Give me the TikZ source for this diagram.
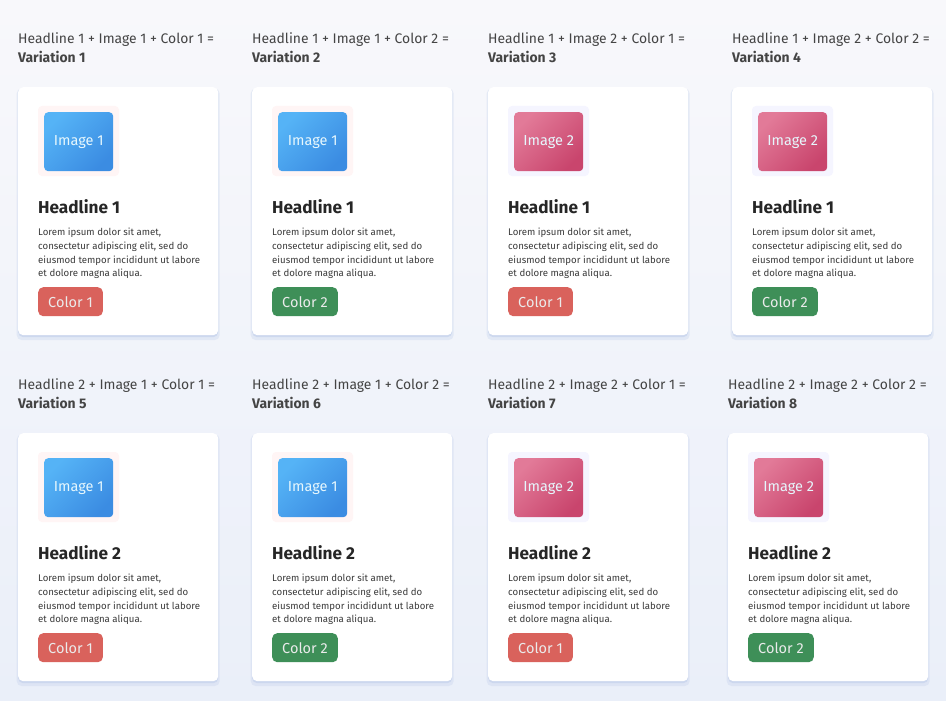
\documentclass[tikz,border=0pt]{standalone}
\usepackage{fontspec}
\setmainfont{Fira Sans}
\usetikzlibrary{positioning, shadows}

\definecolor{bgtop}{HTML}{F8F8FB}
\definecolor{bgbot}{HTML}{EAEFF9}
\definecolor{shadowblue}{HTML}{C5D2EC}
\definecolor{blueA}{HTML}{55B3F6}
\definecolor{blueB}{HTML}{3B8CE2}
\definecolor{pinkA}{HTML}{E27A98}
\definecolor{pinkB}{HTML}{C9456D}
\definecolor{btnred}{HTML}{D9625C}
\definecolor{btngreen}{HTML}{3E8F58}
\definecolor{labgray}{HTML}{444444}
\definecolor{bodygray}{HTML}{3A3A3A}

\begin{document}
\begin{tikzpicture}[x=1pt, y=-1pt,
	card/.style={fill=white, rounded corners=5pt, inner sep=0pt,
		minimum width=200pt, minimum height=248pt,
		drop shadow={shadow xshift=0pt, shadow yshift=-3pt, shadow scale=1.015, fill=shadowblue, opacity=0.35},
		drop shadow={shadow xshift=0pt, shadow yshift=-2pt, fill=shadowblue, opacity=0.7}},
	lab/.style={inner sep=0pt, align=left, text=labgray, font=\fontsize{13.9}{19}\selectfont},
	img/.style={rounded corners=4pt, minimum width=69pt, minimum height=59pt, inner sep=0pt,
		text=white!90!cyan, font=\fontsize{14.5}{16}\selectfont},
	img1/.style={img, left color=blueA, right color=blueB, shading angle=45},
	img2/.style={img, left color=pinkA, right color=pinkB, shading angle=45},
	halo1/.style={fill=red!4, rounded corners=4pt},
	halo2/.style={fill=blue!4, rounded corners=4pt},
	head/.style={inner sep=0pt, text=black!85, font=\fontsize{17.2}{20}\bfseries\selectfont},
	body/.style={inner sep=0pt, align=left, text=bodygray, font=\fontsize{9.65}{13.7}\selectfont},
	btn/.style={rounded corners=5pt, minimum height=29pt, inner xsep=10pt, inner ysep=0pt,
		text=white!92!black, font=\fontsize{14.5}{16}\selectfont},
	btn1/.style={btn, fill=btnred},
	btn2/.style={btn, fill=btngreen}]

\useasboundingbox (0,0) rectangle (946,701);
\fill [top color=bgtop, bottom color=bgbot] (0,0) rectangle (946,701);

% una targeta per variacio
\foreach \n/\cx/\cy/\h/\i/\c in {1/18/87/1/1/1, 2/252/87/1/1/2, 3/488/87/1/2/1, 4/732/87/1/2/2,
		5/18/433/2/1/1, 6/252/433/2/1/2, 7/488/433/2/2/1, 8/728/433/2/2/2}{
	\node [card, anchor=north west] (card\n) at (\cx,\cy) {};
	\node [lab, anchor=north west] (lab\n) at (\cx,\cy-55)
		{Headline \h{} + Image \i{} + Color \c{} =\\\textbf{Variation \n}};
	\fill [halo\i] ([shift={(20,19)}]card\n.north west) rectangle ([shift={(101,89)}]card\n.north west);
	\node [img\i, below right=25pt and 26pt of card\n.north west] (img\n) {Image \i};
	\node [head, anchor=base west] (head\n) at ([shift={(20,126)}]card\n.north west) {Headline \h};
	\node [body, below=15pt of head\n.base west, anchor=north west] (body\n)
		{Lorem ipsum dolor sit amet,\\consectetur adipiscing elit, sed do\\eiusmod tempor incididunt ut labore\\et dolore magna aliqua.};
	\node [btn\c, anchor=north west] (btn\n) at ([shift={(20,200)}]card\n.north west) {Color \c};
}

\end{tikzpicture}
\end{document}
